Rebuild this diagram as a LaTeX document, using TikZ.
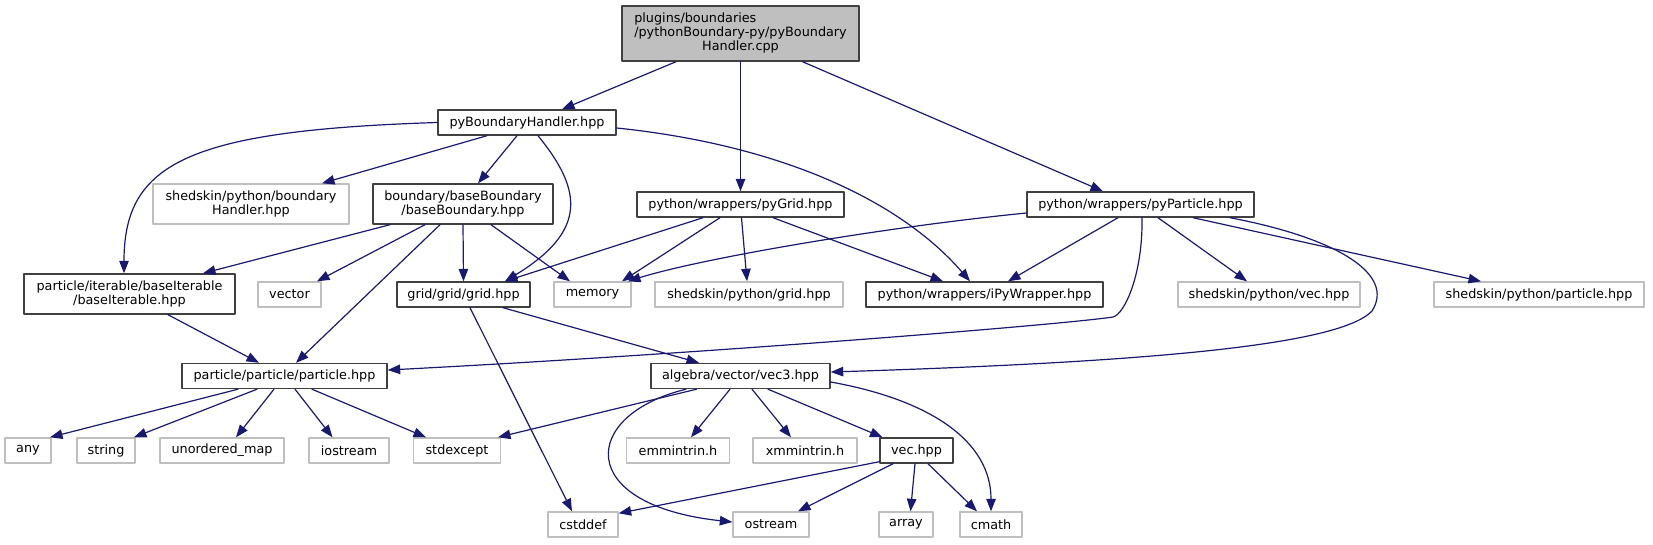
\documentclass[tikz,border=0pt]{standalone}
\usepackage{fontspec}
\setmainfont{DejaVu Sans}
\usepackage{tikz}
\usetikzlibrary{arrows.meta}
\definecolor{incedge}{RGB}{25,25,112}
\definecolor{boxline}{RGB}{64,64,64}
\definecolor{extline}{RGB}{191,191,191}
\definecolor{rootfill}{RGB}{191,191,191}

\tikzset{
  hdrfile/.style={draw=boxline, line width=1.4pt, fill=white, inner sep=0pt, minimum height=25pt, align=center},
  sysfile/.style={hdrfile, draw=extline},
  twoline/.style={minimum height=40pt},
  rootfile/.style={hdrfile, fill=rootfill, minimum height=55pt},
  incl/.style={incedge, line width=1.2pt, -{Triangle[length=12.5pt,width=9.5pt]}},
}

\begin{document}
\begin{tikzpicture}[x=1pt, y=-1pt, font=\fontsize{12.8}{14.2}\selectfont, line cap=round, line join=round]
   \path[use as bounding box] (0,0) rectangle (1653,544);

   % root file
   \node[rootfile, minimum width=237pt] (main) at (740.5,33.5)
      {\begin{tabular}{@{}l@{}}plugins/boundaries\\/pythonBoundary-py/pyBoundary\\\multicolumn{1}{@{}c@{}}{Handler.cpp}\end{tabular}};

   % includes, level by level
   \node[hdrfile, minimum width=178pt] (pyhandler) at (527,122.5) {pyBoundaryHandler.hpp};

   \node[sysfile, twoline, minimum width=196pt] (skbhandler) at (251,204) {shedskin/python/boundary\\Handler.hpp};
   \node[hdrfile, twoline, minimum width=180pt] (baseboundary) at (463,204) {boundary/baseBoundary\\/baseBoundary.hpp};
   \node[hdrfile, minimum width=207pt] (pygrid) at (740.5,204.5) {python/wrappers/pyGrid.hpp};
   \node[hdrfile, minimum width=227pt] (pyparticle) at (1140.5,204.5) {python/wrappers/pyParticle.hpp};

   \node[hdrfile, twoline, minimum width=211pt] (baseiterable) at (129.5,294) {particle/iterable/baseIterable\\/baseIterable.hpp};
   \node[sysfile, minimum width=63pt] (vector) at (289.5,294.5) {vector};
   \node[hdrfile, minimum width=133pt] (gridhpp) at (463.5,294.5) {grid/grid/grid.hpp};
   \node[sysfile, minimum width=77pt] (memory) at (592.5,294.5) {memory};
   \node[sysfile, minimum width=188pt] (skgrid) at (749,294.5) {shedskin/python/grid.hpp};
   \node[hdrfile, minimum width=237pt] (ipywrapper) at (984.5,294.5) {python/wrappers/iPyWrapper.hpp};
   \node[sysfile, minimum width=182pt] (skvec) at (1269,294.5) {shedskin/python/vec.hpp};
   \node[sysfile, minimum width=210pt] (skparticle) at (1539,294.5) {shedskin/python/particle.hpp};

   \node[hdrfile, minimum width=205pt] (particlehpp) at (284.5,376) {particle/particle/particle.hpp};
   \node[hdrfile, minimum width=179pt] (vecthree) at (740.5,376) {algebra/vector/vec3.hpp};

   \node[sysfile, minimum width=46pt] (any) at (28,450.5) {any};
   \node[sysfile, minimum width=58pt] (string) at (106,450.5) {string};
   \node[sysfile, minimum width=124pt] (unorderedmap) at (222,450.5) {unordered\_map};
   \node[sysfile, minimum width=80pt] (iostream) at (349,450.5) {iostream};
   \node[sysfile, minimum width=87pt] (stdexcept) at (457,450.5) {stdexcept};
   \node[sysfile, minimum width=103pt] (emmintrin) at (678,450.5) {emmintrin.h};
   \node[sysfile, minimum width=104pt] (xmmintrin) at (805,450.5) {xmmintrin.h};
   \node[hdrfile, minimum width=73pt] (vechpp) at (916.5,450.5) {vec.hpp};

   \node[sysfile, minimum width=70pt] (cstddef) at (583,524.5) {cstddef};
   \node[sysfile, minimum width=76pt] (ostream) at (771,524.5) {ostream};
   \node[sysfile, minimum width=54pt] (array) at (906,524.5) {array};
   \node[sysfile, minimum width=62pt] (cmath) at (991,524.5) {cmath};

   \coordinate (pbend) at (1113,317);
   \coordinate (vbend) at (1372,311);

   % from the root
   \draw[incl] ([xshift=-64.5pt]main.south) -- ([xshift=35pt]pyhandler.north);
   \draw[incl] (main.south) -- (pygrid.north);
   \draw[incl] ([xshift=62pt]main.south) -- ([xshift=-37.5pt]pyparticle.north);

   % pyBoundaryHandler.hpp
   \draw[incl] (pyhandler.west) .. controls +(-250,8) and +(0,-110) .. ([xshift=-5.5pt]baseiterable.north);
   \draw[incl] ([xshift=-40pt]pyhandler.south) -- ([xshift=71pt]skbhandler.north);
   \draw[incl] ([xshift=-10pt]pyhandler.south) -- ([xshift=15pt]baseboundary.north);
   \draw[incl] ([xshift=11pt]pyhandler.south) .. controls +(45,55) and +(82,-50) .. ([xshift=41.5pt]gridhpp.north);
   \draw[incl] ([yshift=-5.5pt]pyhandler.east) .. controls +(164,17) and +(-70,-81) .. ([xshift=-14.5pt]ipywrapper.north);

   % baseBoundary.hpp
   \draw[incl] ([xshift=-73pt]baseboundary.south) -- ([xshift=73.5pt]baseiterable.north);
   \draw[incl] ([xshift=-38pt]baseboundary.south) -- ([xshift=27.5pt]vector.north);
   \draw[incl] ([xshift=-23pt]baseboundary.south) -- ([xshift=11.5pt]particlehpp.north);
   \draw[incl] (baseboundary.south) -- (gridhpp.north);
   \draw[incl] ([xshift=28pt]baseboundary.south) -- ([xshift=-22.5pt]memory.north);

   % pyGrid.hpp
   \draw[incl] ([xshift=-37.5pt]pygrid.south) -- ([xshift=41.5pt]gridhpp.north);
   \draw[incl] ([xshift=-20.5pt]pygrid.south) -- ([xshift=29.5pt]memory.north);
   \draw[incl] ([xshift=1pt]pygrid.south) -- ([xshift=-2pt]skgrid.north);
   \draw[incl] ([xshift=32.5pt]pygrid.south) -- ([xshift=-41.5pt]ipywrapper.north);

   % pyParticle.hpp
   \draw[incl] ([yshift=-8.5pt]pyparticle.west) .. controls +(-150,15) and +(70,-22) .. ([xshift=35.5pt]memory.north);
   \draw[incl] ([xshift=-22.5pt]pyparticle.south) -- ([xshift=23.5pt]ipywrapper.north);
   \draw[incl] ([xshift=1.5pt]pyparticle.south) .. controls +(1,55) and +(12,-3) .. (pbend)
      .. controls +(-53,8) and +(310,-16) .. ([yshift=6pt]particlehpp.east);
   \draw[incl] ([xshift=17.5pt]pyparticle.south) -- ([xshift=-22pt]skvec.north);
   \draw[incl] ([xshift=52.5pt]pyparticle.south) -- ([xshift=-58pt]skparticle.north);
   \draw[incl] ([xshift=89.5pt]pyparticle.south) .. controls +(110,21) and +(23,-36) .. (vbend)
      .. controls +(-32,34) and +(320,-10) .. ([yshift=4pt]vecthree.east);

   % baseIterable.hpp and grid.hpp
   \draw[incl] ([xshift=38.5pt]baseiterable.south) -- ([xshift=-25.5pt]particlehpp.north);
   \draw[incl] ([xshift=6.5pt]gridhpp.south) -- ([xshift=-11pt]cstddef.north);
   \draw[incl] ([xshift=39.5pt]gridhpp.south) -- ([xshift=-41.5pt]vecthree.north);

   % particle.hpp
   \draw[incl] ([xshift=-46.5pt]particlehpp.south) -- ([xshift=22pt]any.north);
   \draw[incl] ([xshift=-27.5pt]particlehpp.south) -- ([xshift=28pt]string.north);
   \draw[incl] ([xshift=-10.5pt]particlehpp.south) -- ([xshift=14pt]unorderedmap.north);
   \draw[incl] ([xshift=10.5pt]particlehpp.south) -- ([xshift=-16.5pt]iostream.north);
   \draw[incl] ([xshift=27.5pt]particlehpp.south) -- ([xshift=-31pt]stdexcept.north);

   % vec3.hpp
   \draw[incl] ([xshift=-44pt]vecthree.south) -- ([xshift=41pt]stdexcept.north);
   \draw[incl] ([xshift=-54.5pt]vecthree.south) .. controls +(-106,26) and +(-158,-17) .. ([yshift=2.5pt]ostream.west);
   \draw[incl] ([xshift=-10.5pt]vecthree.south) -- ([xshift=13pt]emmintrin.north);
   \draw[incl] ([xshift=11.5pt]vecthree.south) -- ([xshift=-14pt]xmmintrin.north);
   \draw[incl] ([xshift=27.5pt]vecthree.south) -- ([xshift=-34pt]vechpp.north);
   \draw[incl] ([yshift=-6pt]vecthree.east) .. controls +(100,18) and +(0,-70) .. (cmath.north);

   % vec.hpp
   \draw[incl] ([yshift=2pt]vechpp.south west) -- ([yshift=-2pt]cstddef.north east);
   \draw[incl] ([xshift=-23.5pt]vechpp.south) -- ([xshift=27pt]ostream.north);
   \draw[incl] ([xshift=-1.5pt]vechpp.south) -- ([xshift=4.5pt]array.north);
   \draw[incl] ([xshift=11.5pt]vechpp.south) -- ([xshift=-14pt]cmath.north);

\end{tikzpicture}
\end{document}
